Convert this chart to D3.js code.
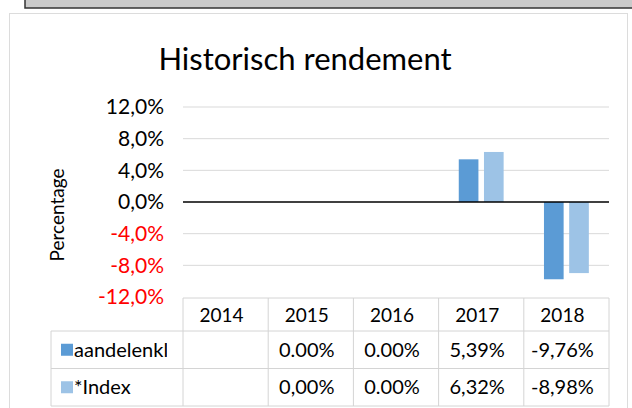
<!DOCTYPE html>
<html lang="nl">
<head>
<meta charset="utf-8">
<title>Historisch rendement</title>
<script src="https://d3js.org/d3.v7.min.js"></script>
<style>
  body { margin: 0; background: #fff; }
  text { font-family: Lato, "Open Sans", sans-serif; }
</style>
</head>
<body>
<div id="chart"></div>
<script>
// data
const years = ["2014", "2015", "2016", "2017", "2018"];
const seriesNames = ["aandelenklasse", "*Index"];
const fundValues = [null, 0, 0, 5.39, -9.76];
const indexValues = [null, 0, 0, 6.32, -8.98];
const fundLabels = ["", "0.00%", "0.00%", "5,39%", "-9,76%"];
const indexLabels = ["", "0,00%", "0.00%", "6,32%", "-8,98%"];
const yTicks = [-12, -8, -4, 0, 4, 8, 12];
const colors = ["#5b9bd5", "#9dc3e6"];

const width = 632, height = 408;
const plotLeft = 183, plotRight = 609;
const tableTop = 298, headerH = 33, rowH = 37.5, tableLeft = 51;

const svg = d3.select("#chart").append("svg")
    .attr("width", width)
    .attr("height", height);

// top grey strip + panel
svg.append("rect").attr("x", 25).attr("y", -2).attr("width", 612).attr("height", 10)
    .attr("fill", "#cacaca").attr("stroke", "#333").attr("stroke-width", 1.5);
svg.append("rect").attr("x", 9.5).attr("y", 13.5).attr("width", 618).attr("height", 400)
    .attr("fill", "#fff").attr("stroke", "#dcdcdc");

svg.append("text")
    .attr("x", 305).attr("y", 70)
    .attr("text-anchor", "middle")
    .style("font-size", "31px")
    .text("Historisch rendement");

const x = d3.scaleBand().domain(years).range([plotLeft, plotRight]);
const xSub = d3.scaleBand().domain(seriesNames).range([0, x.bandwidth()])
    .paddingInner(0.22).paddingOuter(0.8);
const y = d3.scaleLinear().domain([-12, 12]).range([297, 107]);

// gridlines
svg.append("g").selectAll("line")
    .data(yTicks.filter(d => d !== 0 && d !== -12))
    .join("line")
    .attr("x1", plotLeft).attr("x2", plotRight)
    .attr("y1", d => y(d)).attr("y2", d => y(d))
    .attr("stroke", "#d9d9d9");

// y axis labels
const fmt = d => d3.format(".1f")(d).replace(".", ",").replace("−", "-") + "%";
const yAxis = svg.append("g")
    .attr("transform", "translate(" + (plotLeft - 19) + ",0)")
    .call(d3.axisLeft(y).tickValues(yTicks).tickSize(0).tickFormat(fmt));
yAxis.select(".domain").remove();
yAxis.selectAll("text")
    .attr("x", 0)
    .style("font-size", "21px")
    .style("font-family", "Lato, sans-serif")
    .attr("fill", d => d < 0 ? "#ff0000" : "#000");

svg.append("text")
    .attr("transform", "translate(64,215) rotate(-90)")
    .attr("text-anchor", "middle")
    .style("font-size", "19px")
    .text("Percentage");

// bars
const rows = years.map((yr, i) => ({year: yr, values: [fundValues[i], indexValues[i]]}));
svg.append("g").selectAll("g")
    .data(rows)
    .join("g")
    .attr("transform", d => "translate(" + x(d.year) + ",0)")
    .selectAll("rect")
    .data(d => d.values.map((v, j) => ({name: seriesNames[j], value: v, j: j})).filter(e => e.value))
    .join("rect")
    .attr("x", d => xSub(d.name))
    .attr("width", xSub.bandwidth())
    .attr("y", d => y(Math.max(0, d.value)))
    .attr("height", d => Math.abs(y(d.value) - y(0)))
    .attr("fill", d => colors[d.j]);

// zero line
svg.append("line")
    .attr("x1", plotLeft).attr("x2", plotRight)
    .attr("y1", y(0)).attr("y2", y(0))
    .attr("stroke", "#000").attr("stroke-width", 1.5);

// data table
const grid = svg.append("g").attr("stroke", "#d4d4d4").attr("stroke-width", 1);
const rowY = [tableTop, tableTop + headerH, tableTop + headerH + rowH, tableTop + headerH + 2 * rowH];
grid.selectAll("line.h")
    .data(rowY)
    .join("line")
    .attr("x1", (d, i) => i === 0 ? plotLeft : tableLeft).attr("x2", plotRight)
    .attr("y1", d => d).attr("y2", d => d);
const colX = years.map(d => x(d)).concat([plotRight]);
grid.selectAll("line.v")
    .data(colX)
    .join("line")
    .attr("x1", d => d).attr("x2", d => d)
    .attr("y1", tableTop).attr("y2", rowY[3]);
grid.append("line")
    .attr("x1", tableLeft).attr("x2", tableLeft)
    .attr("y1", rowY[1]).attr("y2", rowY[3]);

svg.append("g").selectAll("text")
    .data(years)
    .join("text")
    .attr("x", d => x(d) + x.bandwidth() / 2 - 4)
    .attr("y", tableTop + headerH / 2 + 7)
    .attr("text-anchor", "middle")
    .style("font-size", "19px")
    .text(d => d);

// legend keys + series names (long name is cut off, as in the original)
svg.append("clipPath").attr("id", "nameClip")
    .append("rect").attr("x", tableLeft).attr("y", tableTop).attr("width", 116).attr("height", 120);

const labelRows = [fundLabels, indexLabels];
seriesNames.forEach((name, j) => {
    const cy = rowY[1 + j] + rowH / 2;
    svg.append("rect")
        .attr("x", 61).attr("y", cy - 6)
        .attr("width", 12).attr("height", 12)
        .attr("fill", colors[j]);
    svg.append("text")
        .attr("x", 74).attr("y", cy + 7)
        .attr("clip-path", "url(#nameClip)")
        .style("font-size", "20px")
        .text(name);
    svg.append("g").selectAll("text")
        .data(years)
        .join("text")
        .attr("x", d => x(d) + x.bandwidth() / 2 - 4)
        .attr("y", cy + 7)
        .attr("text-anchor", "middle")
        .style("font-size", "20px")
        .text((d, i) => labelRows[j][i]);
});
</script>
</body>
</html>
